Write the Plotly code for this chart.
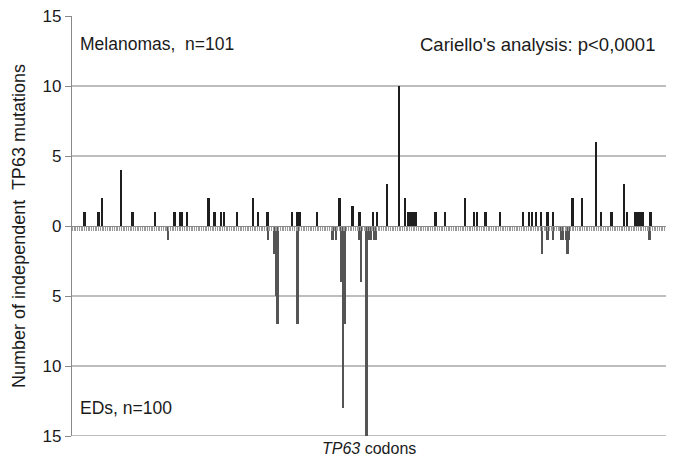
import plotly.graph_objects as go

# TP63 codon axis
n_codons = 680

# Melanomas (upward bars): codon, number of independent mutations
mel_codons = [15, 31, 35, 57, 70, 96, 118, 124, 127, 132, 157, 164, 171, 175, 190,
              208, 214, 224, 225, 253, 259, 262, 281, 307, 322, 330, 345, 350, 361,
              375, 382, 385, 387, 388, 389, 390, 391, 392, 393, 394, 417, 428, 451,
              461, 464, 474, 475, 491, 517, 524, 527, 532, 538, 545, 551, 573, 574,
              585, 601, 606, 618, 619, 633, 636, 646, 648, 650, 652, 654, 663, 664]
mel_counts = [1, 1, 2, 4, 1, 1, 1, 1, 1, 1, 2, 1, 1, 1, 1,
              2, 1, 1, 1, 1, 1, 1, 1, 2, 1.4, 1, 1, 1, 3,
              10, 2, 1, 1, 1, 1, 1, 1, 1, 1, 1, 1, 1, 2,
              1, 1, 1, 1, 1, 1, 1, 1, 1, 1, 1, 1, 2, 2,
              2, 6, 1, 1, 1, 3, 1, 1, 1, 1, 1, 1, 1, 1]

# EDs (downward bars)
ed_codons = [111, 225, 232, 234, 236, 259, 299, 303, 309, 311, 313, 330, 332, 337,
             338, 341, 343, 347, 349, 539, 545, 551, 561, 563, 566, 568, 570, 662]
ed_counts = [1, 1, 2, 5, 7, 7, 1, 1, 4, 13, 7, 1, 4, 6,
             15, 1, 1, 1, 1, 2, 1, 1, 1, 1, 1, 2, 1, 1]

y_tickvals = [15, 10, 5, 0, -5, -10, -15]
y_ticktext = ["15", "10", "5", "0", "5", "10", "15"]
grid_levels = [10, 5, -5, -10, -15]

fig = go.Figure()
fig.add_trace(go.Bar(x=mel_codons, y=mel_counts, width=2.0,
                     marker=dict(color="#1e1e1e", line=dict(width=0)), name="Melanomas"))
fig.add_trace(go.Bar(x=ed_codons, y=[-v for v in ed_counts], width=2.0,
                     marker=dict(color="#555555", line=dict(width=0)), name="EDs"))

shapes = []
for g in grid_levels:
    shapes.append(dict(type="line", xref="paper", yref="y", x0=0, x1=1, y0=g, y1=g,
                       line=dict(color="#a8a8a8", width=1.3), layer="below"))

font = "Liberation Sans, Arial, sans-serif"
fig.update_layout(
    width=676, height=462,
    margin=dict(l=64, r=18, t=8, b=34, autoexpand=False),
    paper_bgcolor="white", plot_bgcolor="white",
    barmode="overlay", bargap=0, showlegend=False,
    font=dict(family=font, size=17.5, color="#1a1a1a"),
    shapes=shapes,
    xaxis=dict(range=[0.5, n_codons + 0.5], showticklabels=False, showgrid=False,
               zeroline=False, showline=False, ticks="", automargin=False),
    xaxis2=dict(range=[0.5, n_codons + 0.5], overlaying="x", anchor="free", position=0.5,
                side="bottom", showticklabels=False, showgrid=False, zeroline=False,
                showline=True, linecolor="#8a8a8a", linewidth=1.3, automargin=False,
                ticks="outside", ticklen=4, tickwidth=1, tickcolor="#9a9a9a",
                tickmode="linear", tick0=1, dtick=2),
    yaxis=dict(range=[-15, 15], tickmode="array", tickvals=y_tickvals, ticktext=y_ticktext,
               showgrid=False, zeroline=False, showline=True, linecolor="#8a8a8a",
               linewidth=1.3, ticks="outside", ticklen=6, tickcolor="#8a8a8a",
               automargin=False, ticklabeloverflow="allow",
               tickfont=dict(size=17, color="#1a1a1a"),
               title=dict(text="Number of independent  TP63 mutations", standoff=12,
                          font=dict(size=18))),
    annotations=[
        dict(text="Melanomas,  n=101", xref="paper", yref="y", x=0.01, y=13.0,
             xanchor="left", yanchor="middle", showarrow=False, font=dict(size=17.5)),
        dict(text="Cariello's analysis: p<0,0001", xref="paper", yref="y", x=0.985, y=13.0,
             xanchor="right", yanchor="middle", showarrow=False, font=dict(size=18.5)),
        dict(text="EDs, n=100", xref="paper", yref="y", x=0.01, y=-13.0,
             xanchor="left", yanchor="middle", showarrow=False, font=dict(size=17.5)),
        dict(text="<i>TP63</i> codons", xref="paper", yref="paper", x=0.5, y=-0.029,
             xanchor="center", yanchor="middle", showarrow=False, font=dict(size=16)),
    ],
)
# invisible helper trace so the codon tick axis at y=0 renders
fig.add_trace(go.Scatter(x=[1], y=[0], xaxis="x2", mode="markers",
                         marker=dict(opacity=0), hoverinfo="skip", showlegend=False))

fig.write_html("out.html")
